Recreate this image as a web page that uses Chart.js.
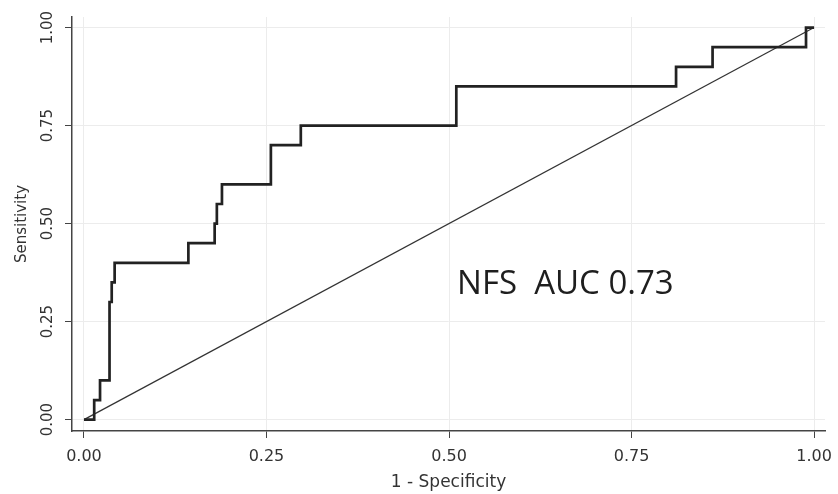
<!DOCTYPE html>
<html>
<head>
<meta charset="utf-8">
<script src="https://cdn.jsdelivr.net/npm/chart.js@4"></script>
<style>
  html, body { margin: 0; padding: 0; background: #fff; }
  #wrap { width: 838px; height: 494px; }
</style>
</head>
<body>
<div id="wrap"><canvas id="rocChart"></canvas></div>
<script>
// ROC curve
const fpr = [0, 0.014, 0.022, 0.035, 0.038, 0.042, 0.143, 0.179, 0.182, 0.189, 0.256, 0.297, 0.510, 0.811, 0.861, 0.989, 1.0];
const tpr = [0, 0.05, 0.10, 0.30, 0.35, 0.40, 0.45, 0.50, 0.55, 0.60, 0.70, 0.75, 0.85, 0.90, 0.95, 1.00, 1.00];
const refX = [0, 1];
const refY = [0, 1];
const tickValues = [0, 0.25, 0.5, 0.75, 1];
const xTitle = "1 - Specificity";
const yTitle = "Sensitivity";
const note = "NFS  AUC 0.73";

const ctx = document.getElementById("rocChart");

const notePlugin = {
  id: "note",
  afterDraw(chart) {
    const c = chart.ctx;
    const x = chart.scales.x.getPixelForValue(0.511);
    const y = chart.scales.y.getPixelForValue(0.345);
    c.save();
    c.font = "33px 'Open Sans'";
    c.fillStyle = "#1e1e1e";
    c.textAlign = "left";
    c.textBaseline = "middle";
    c.fillText(note, x, y);
    c.restore();
  },
};

new Chart(ctx, {
  type: "scatter",
  data: {
    datasets: [
      {
        label: "ROC",
        data: fpr.map((v, i) => ({ x: v, y: tpr[i] })),
        showLine: true,
        stepped: "before",
        borderColor: "#222",
        borderWidth: 2.7,
        pointRadius: 0,
        fill: false,
      },
      {
        label: "Reference",
        data: refX.map((v, i) => ({ x: v, y: refY[i] })),
        showLine: true,
        borderColor: "#333",
        borderWidth: 1.2,
        pointRadius: 0,
        fill: false,
      },
    ],
  },
  plugins: [notePlugin],
  options: {
    responsive: true,
    maintainAspectRatio: false,
    animation: false,
    layout: { padding: { top: 17, right: 13, left: 0, bottom: 0 } },
    plugins: {
      legend: { display: false },
      tooltip: { enabled: false },
    },
    scales: {
      x: {
        type: "linear",
        min: -0.0164,
        max: 1.015,
        afterBuildTicks: (s) => { s.ticks = tickValues.map((v) => ({ value: v })); },
        afterFit: (s) => {
          s.height = 63;
          s.paddingLeft = 0;
          s.paddingRight = 0;
        },
        ticks: {
          color: "#333",
          font: { family: "DejaVu Sans", size: 16 },
          padding: 9,
          maxRotation: 0,
          callback: (v) => v.toFixed(2),
        },
        grid: { color: "#ececec", tickColor: "#444", tickLength: 7 },
        border: { color: "#444", width: 1.5 },
        title: {
          display: true,
          text: xTitle,
          color: "#333",
          font: { family: "DejaVu Sans", size: 17 },
          padding: { top: 0, bottom: 1 },
        },
      },
      y: {
        type: "linear",
        min: -0.029,
        max: 1.027,
        afterBuildTicks: (s) => { s.ticks = tickValues.map((v) => ({ value: v })); },
        afterFit: (s) => {
          s.width = 72;
          s.paddingTop = 0;
          s.paddingBottom = 0;
        },
        ticks: {
          color: "#333",
          font: { family: "DejaVu Sans", size: 15 },
          padding: 0,
          minRotation: 90,
          maxRotation: 90,
          crossAlign: "center",
          callback: (v) => v.toFixed(2),
        },
        grid: { color: "#ececec", tickColor: "#444", tickLength: 7 },
        border: { color: "#444", width: 1.5 },
        title: {
          display: true,
          text: yTitle,
          color: "#333",
          font: { family: "DejaVu Sans", size: 15 },
          padding: { top: 13, bottom: 0 },
        },
      },
    },
  },
});
</script>
</body>
</html>
